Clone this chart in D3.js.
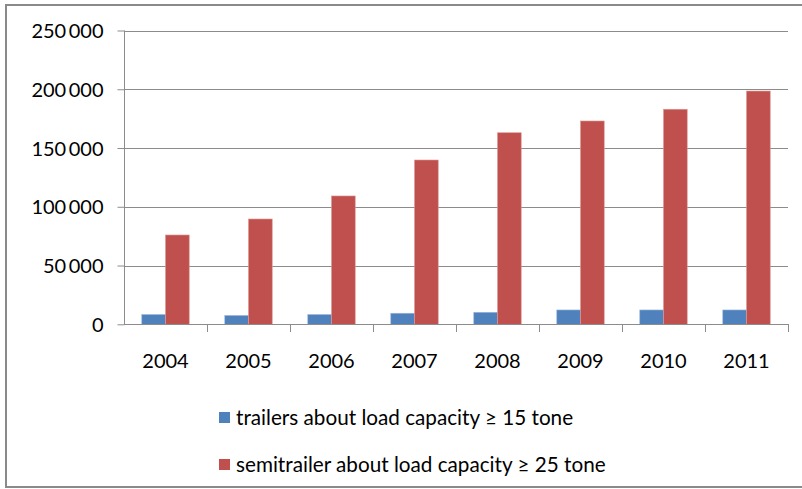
<!DOCTYPE html>
<html>
<head>
<meta charset="utf-8">
<script src="https://cdn.jsdelivr.net/npm/d3@7"></script>
<style>
  html, body { margin: 0; padding: 0; background: #fff; }
  svg { display: block; }
  text { font-family: Lato, "Open Sans", sans-serif; fill: #000; }
</style>
</head>
<body>
<svg id="chart" width="802" height="489"></svg>
<script>
const categories = ["2004", "2005", "2006", "2007", "2008", "2009", "2010", "2011"];
const seriesNames = ["trailers about load capacity \u2265 15 tone", "semitrailer about load capacity \u2265 25 tone"];
const trailers = [8300, 7500, 8300, 9400, 10200, 12200, 12200, 12200];
const semitrailers = [76000, 89600, 109200, 139800, 163000, 173000, 183000, 198500];
const yTicks = [0, 50000, 100000, 150000, 200000, 250000];
const colors = ["#4F81BD", "#C0504D"];

(function () {
const svg = d3.select("#chart");

// outer frame
svg.append("rect")
  .attr("x", 6).attr("y", 5).attr("width", 820).attr("height", 482)
  .attr("fill", "none").attr("stroke", "#8a8a8a").attr("stroke-width", 2);

const pLeft = 124, pRight = 788, pTop = 30.5, pBottom = 324.3;

const y = d3.scaleLinear().domain([0, 250000]).range([pBottom, pTop]);
const x0 = d3.scaleBand().domain(categories).range([pLeft, pRight]).padding(0);
const bw = x0.bandwidth();
const barW = bw / 3.5;
const x1 = d3.scaleBand().domain([0, 1]).range([0.75 * barW, bw - 0.75 * barW]).padding(0);

const fmt = v => v === 0 ? "0" : d3.format(",")(v).replace(/,/g, "\u2009");

// gridlines
svg.append("g").selectAll("line").data(yTicks.filter(d => d > 0)).join("line")
  .attr("x1", pLeft).attr("x2", pRight)
  .attr("y1", d => Math.round(y(d)) + 0.5).attr("y2", d => Math.round(y(d)) + 0.5)
  .attr("stroke", "#8c8c8c").attr("stroke-width", 1);

// y axis
const yAxis = d3.axisLeft(y).tickValues(yTicks).tickSize(7).tickPadding(14).tickFormat(fmt);
const gy = svg.append("g").attr("transform", `translate(${pLeft + 0.5},0)`).call(yAxis);
gy.select(".domain").attr("stroke", "#8c8c8c").attr("d", `M0,${pTop}V${pBottom}`);
gy.selectAll(".tick line").attr("stroke", "#8c8c8c");
gy.selectAll(".tick text").attr("font-size", 20).attr("font-family", "Lato, sans-serif").attr("fill", "#000").attr("dy", "0.36em");

// bars
const data = categories.map((c, i) => ({ c, vals: [trailers[i], semitrailers[i]] }));
const groups = svg.append("g").selectAll("g").data(data).join("g")
  .attr("transform", d => `translate(${x0(d.c)},0)`);
groups.selectAll("rect").data(d => d.vals.map((v, k) => ({ v, k }))).join("rect")
  .attr("x", d => x1(d.k))
  .attr("width", x1.bandwidth())
  .attr("y", d => y(d.v))
  .attr("height", d => y(0) - y(d.v))
  .attr("fill", d => colors[d.k])
  .attr("stroke", d => d.k === 0 ? "#9ab5da" : "#dc9896")
  .attr("stroke-width", 0.6);

// x axis
const xAxisLine = svg.append("g");
xAxisLine.append("line")
  .attr("x1", pLeft).attr("x2", pRight + 0.5)
  .attr("y1", Math.round(pBottom) + 0.5).attr("y2", Math.round(pBottom) + 0.5)
  .attr("stroke", "#8c8c8c");
const tickPos = categories.map(c => x0(c) + bw);
xAxisLine.selectAll("line.t").data(tickPos).join("line").attr("class", "t")
  .attr("x1", d => Math.round(d) + 0.5).attr("x2", d => Math.round(d) + 0.5)
  .attr("y1", Math.round(pBottom)).attr("y2", Math.round(pBottom) + 8)
  .attr("stroke", "#8c8c8c");
svg.append("g").selectAll("text").data(categories).join("text")
  .attr("x", d => x0(d) + bw / 2)
  .attr("y", 368)
  .attr("text-anchor", "middle")
  .attr("font-size", 20)
  .text(d => d);

// legend
const legend = svg.append("g");
const ly = [412, 459];
seriesNames.forEach((name, i) => {
  legend.append("rect").attr("x", 219).attr("y", ly[i]).attr("width", 11).attr("height", 11)
    .attr("fill", colors[i]);
  legend.append("text").attr("x", 236).attr("y", ly[i] + 13).attr("font-size", 20.7).text(name);
});
})();
</script>
</body>
</html>
